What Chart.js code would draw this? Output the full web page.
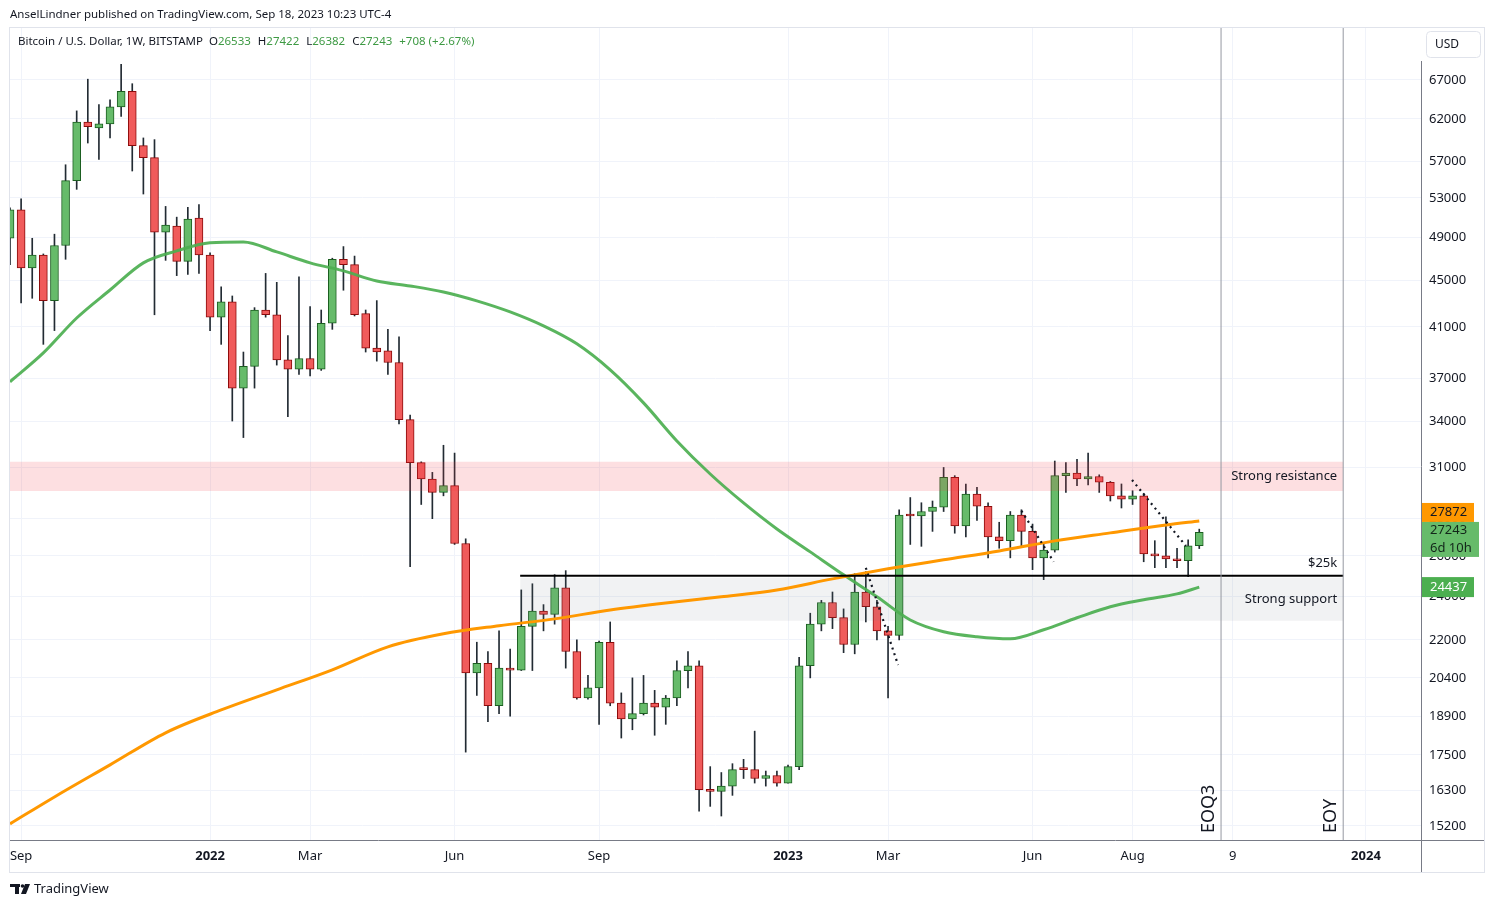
<!DOCTYPE html>
<html>
<head>
<meta charset="utf-8">
<title>Bitcoin / U.S. Dollar, 1W</title>
<script src="https://cdn.jsdelivr.net/npm/chart.js@4.4.0/dist/chart.umd.min.js"></script>
<style>
    html, body { margin: 0; padding: 0; background: #ffffff; }
    #chart { display: block; }
</style>
</head>
<body>
<canvas id="chart" width="1494" height="907"></canvas>
<script>
// week 0 = weekly bar starting Mon 2021-09-06, first bar drawn is week -1
const firstWeek = -1;

const opens = [48900, 51750, 46100, 47300, 43200, 48200, 54850, 61600, 60900, 61400,
    63500, 65500, 58800, 57400, 49500, 50100, 46700, 50900, 47300, 41800,
    43100, 36300, 37900, 42400, 42000, 38400, 37700, 38500, 37700, 41300,
    46900, 46400, 42100, 39300, 39100, 38200, 34100, 31300, 30300, 29500,
    29900, 26650, 20600, 21000, 19300, 20780, 20720, 22600, 23300, 23150,
    24400, 21500, 19600, 20000, 21900, 19400, 18800, 19000, 19400, 19250,
    19600, 20700, 20900, 16330, 16280, 16450, 17050, 17000, 16700, 16800,
    16550, 17100, 20900, 22700, 23700, 23000, 21800, 24200, 23500, 22400,
    22200, 28200, 28150, 28400, 28650, 30400, 27600, 29400, 28700, 27000,
    26800, 28200, 27300, 25900, 26300, 30500, 30650, 30300, 30450, 30100,
    29300, 29100, 29300, 26100, 26000, 25850, 25750, 26533];
const highs = [51950, 52900, 48900, 47400, 49300, 56600, 63000, 67100, 63800, 64400,
    69100, 66500, 59700, 59500, 52100, 51000, 52000, 52300, 47500, 44400,
    43600, 39000, 42600, 45600, 44800, 40300, 45300, 42700, 42400, 47000,
    48100, 47200, 42400, 43200, 40800, 40200, 34400, 31350, 30700, 32400,
    31900, 26900, 21900, 21500, 22400, 21600, 24300, 24600, 23600, 25050,
    25250, 22000, 20500, 21950, 22800, 19800, 20400, 20500, 19900, 19700,
    21100, 21500, 21100, 17100, 16900, 17200, 17350, 18350, 16950, 16950,
    17150, 21250, 23200, 23800, 24200, 23400, 25100, 25200, 23800, 22600,
    28500, 29200, 28900, 29000, 31000, 30500, 30000, 29800, 28900, 27800,
    28400, 28500, 27700, 26700, 31400, 31300, 31500, 31900, 30550, 30150,
    30000, 29600, 29450, 26800, 28100, 26400, 26850, 27422];
const lows = [46400, 43000, 43400, 39600, 40700, 46900, 53900, 59100, 57200, 59700,
    62300, 55900, 53400, 42000, 46800, 45400, 45500, 45600, 40700, 39600,
    34000, 32900, 36300, 41800, 38000, 34300, 37300, 37200, 37600, 40800,
    44100, 41900, 39000, 38300, 37300, 33800, 25450, 28800, 28000, 29300,
    26600, 17600, 19700, 18700, 19000, 18900, 20700, 20700, 22400, 22700,
    20800, 19550, 19550, 18600, 19300, 18100, 18400, 18950, 18200, 18600,
    19300, 20000, 15650, 15800, 15500, 16150, 16700, 16550, 16450, 16450,
    16550, 17000, 20400, 22400, 22500, 21450, 21400, 22800, 22000, 19600,
    22000, 26600, 26500, 27300, 28400, 27200, 27000, 27900, 25900, 26400,
    25900, 26500, 25300, 24800, 26200, 29500, 29900, 29950, 29500, 29000,
    28600, 28800, 25700, 25400, 25400, 25400, 24950, 26382];
const closes = [51750, 46100, 47300, 43200, 48200, 54850, 61600, 61050, 61400, 63500,
    65500, 58800, 57400, 49500, 50200, 46700, 50800, 47300, 41800, 43100,
    36300, 37900, 42400, 42000, 38400, 37700, 38500, 37700, 41300, 46900,
    46400, 42000, 39300, 39000, 38200, 34100, 31300, 30300, 29500, 29900,
    26650, 20600, 21000, 19300, 20800, 20720, 22600, 23300, 23150, 24400,
    21500, 19600, 20000, 21900, 19400, 18800, 19000, 19400, 19250, 19600,
    20700, 20900, 16330, 16280, 16450, 17000, 17000, 16700, 16800, 16550,
    17100, 20900, 22700, 23700, 23000, 21800, 24200, 23500, 22400, 22200,
    28200, 28150, 28400, 28650, 30400, 27600, 29400, 28700, 27000, 26800,
    28200, 27300, 25900, 26300, 30500, 30650, 30300, 30450, 30100, 29300,
    29100, 29300, 26100, 26000, 25850, 25750, 26533, 27243];

// moving averages at a few weeks
const greenMaWeeks = [-1, 2, 5, 8, 11, 14, 17, 20, 23, 26, 29, 32, 35, 38, 41, 44, 47, 50, 53,
    56, 59, 62, 65, 68, 71, 74, 77, 80, 83, 86, 89, 92, 95, 98, 101, 104, 106];
const greenMaValues = [36760, 38930, 41730, 44120, 46570, 47690, 48460, 48550, 47590, 46570,
    45830, 44920, 44480, 43950, 43180, 42240, 41080, 39640, 37640, 35250, 32680, 30600,
    28890, 27430, 26210, 25040, 23970, 22890, 22360, 22140, 22050, 22450, 22990, 23500,
    23830, 24110, 24437];
const orangeMaWeeks = [-1, 3, 8, 13, 18, 23, 28, 33, 38, 43, 48, 53, 58, 63, 68, 73, 78, 83,
    88, 93, 98, 103, 106];
const orangeMaValues = [15260, 16100, 17160, 18290, 19140, 19920, 20730, 21700, 22270, 22630,
    22940, 23350, 23680, 23970, 24300, 24840, 25340, 25800, 26260, 26790, 27220, 27650, 27872];

// drawings
const resistanceZone = [29590, 31350];
const supportZone = [22850, 24900];
const supportLevel = 25000;
const supportStartWeek = 44.9;
const eoq3Week = 107.96;
const eoyWeek = 118.95;
const dottedLines = [
    {weeks: [76.0, 78.9], values: [25390, 20930]},
    {weeks: [90.0, 92.9], values: [28440, 25700]},
    {weeks: [99.95, 104.8], values: [30240, 26520]}
];

const timeTickWeeks = [0, 17, 26, 39, 52, 69, 78, 91, 100, 109, 121];
const timeTickLabels = ['Sep', '2022', 'Mar', 'Jun', 'Sep', '2023', 'Mar', 'Jun', 'Aug', '9', '2024'];
const priceTicks = [67000, 62000, 57000, 53000, 49000, 45000, 41000, 37000, 34000, 31000,
    28000, 26000, 24000, 22000, 20400, 18900, 17500, 16300, 15200];

const xMin = -1;
const xMax = 125.95;
const yMin = 14778;
const yMax = 74290;

const FONT = '"Noto Sans", "DejaVu Sans", sans-serif';
const TEXT = '#131722';
Chart.defaults.font.family = FONT;

const weekOf = opens.map((o, i) => firstWeek + i);
const upBar = opens.map((o, i) => closes[i] >= o);

const wickData = weekOf.map((w, i) => ({x: w, y: [lows[i], highs[i]]}));
const bodyData = weekOf.map((w, i) => ({x: w, y: [opens[i], closes[i]]}));

const toPoints = (weeks, values) => weeks.map((w, i) => ({x: w, y: values[i]}));

const zoneSet = (range, startWeek, color) => ({
    type: 'line',
    data: [{x: startWeek, y: range[1]}, {x: eoyWeek, y: range[1]}],
    fill: {value: range[0]},
    backgroundColor: color,
    borderWidth: 0,
    pointRadius: 0,
    order: 10
});

const datasets = [
    {
        type: 'bar', data: wickData, grouped: false, barThickness: 1,
        backgroundColor: '#222b33', borderWidth: 0, order: 30
    },
    {
        type: 'bar', data: bodyData, grouped: false, barThickness: 8, minBarLength: 2,
        backgroundColor: upBar.map(u => u ? '#66bb6a' : '#f05b5b'),
        borderColor: upBar.map(u => u ? '#1b5e20' : '#8b0a0a'),
        borderWidth: 1, borderSkipped: false, order: 20
    },
    zoneSet(resistanceZone, xMin, 'rgba(242, 54, 69, 0.16)'),
    zoneSet(supportZone, supportStartWeek, 'rgba(120, 123, 134, 0.10)'),
    {
        type: 'line', data: toPoints(orangeMaWeeks, orangeMaValues),
        borderColor: '#ff9800', borderWidth: 3, pointRadius: 0,
        cubicInterpolationMode: 'monotone', order: 5
    },
    {
        type: 'line', data: toPoints(greenMaWeeks, greenMaValues),
        borderColor: 'rgba(76, 175, 80, 0.92)', borderWidth: 3, pointRadius: 0,
        cubicInterpolationMode: 'monotone', order: 5
    },
    {
        type: 'line', data: [{x: supportStartWeek, y: supportLevel}, {x: eoyWeek, y: supportLevel}],
        borderColor: '#000000', borderWidth: 2, pointRadius: 0, order: 4
    },
    {
        type: 'line', data: [{x: eoq3Week, y: yMin}, {x: eoq3Week, y: yMax}],
        borderColor: '#9598a1', borderWidth: 1, pointRadius: 0, order: 3
    },
    {
        type: 'line', data: [{x: eoyWeek, y: yMin}, {x: eoyWeek, y: yMax}],
        borderColor: '#9598a1', borderWidth: 1, pointRadius: 0, order: 3
    }
];

for (const d of dottedLines) {
    datasets.push({
        type: 'line', data: toPoints(d.weeks, d.values),
        borderColor: '#131722', borderWidth: 2.2, borderDash: [2, 4],
        pointRadius: 0, order: 2
    });
}

const priceBox = (ctx, top, width, height, bg, lines, color) => {
    ctx.fillStyle = bg;
    ctx.fillRect(1422, top, width, height);
    ctx.fillStyle = color;
    ctx.font = '13px ' + FONT;
    ctx.textAlign = 'left';
    ctx.textBaseline = 'middle';
    const step = height / lines.length;
    lines.forEach((t, i) => ctx.fillText(t, 1430, top + step * (i + 0.5)));
};

const overlay = {
    id: 'overlay',
    afterDraw(chart) {
        const {ctx, chartArea: area} = chart;
        const x = chart.scales.x, y = chart.scales.y;
        ctx.save();

        // pane frame and axis lines
        ctx.strokeStyle = '#e0e3eb';
        ctx.lineWidth = 1;
        ctx.strokeRect(9.5, 27.5, 1475, 845);
        ctx.strokeStyle = '#787b86';
        ctx.beginPath();
        ctx.moveTo(area.right + 0.5, 61);
        ctx.lineTo(area.right + 0.5, 872);
        ctx.moveTo(area.left, area.bottom + 0.5);
        ctx.lineTo(1484, area.bottom + 0.5);
        ctx.stroke();

        // header lines
        ctx.textAlign = 'left';
        ctx.textBaseline = 'middle';
        ctx.fillStyle = TEXT;
        ctx.font = '11.5px ' + FONT;
        ctx.fillText('AnselLindner published on TradingView.com, Sep 18, 2023 10:23 UTC-4', 10, 15);
        ctx.font = '11.5px ' + FONT;
        const symbol = 'Bitcoin / U.S. Dollar, 1W, BITSTAMP';
        ctx.fillText(symbol, 18, 42);
        let px = 18 + ctx.measureText(symbol).width + 6;
        const legend = [['O', '26533'], ['H', '27422'], ['L', '26382'], ['C', '27243'], ['', '+708 (+2.67%)']];
        for (const [k, v] of legend) {
            ctx.fillStyle = TEXT;
            ctx.fillText(k, px, 42);
            px += ctx.measureText(k).width;
            ctx.fillStyle = '#3e9a44';
            ctx.fillText(v, px, 42);
            px += ctx.measureText(v).width + 7;
        }

        // USD button
        ctx.strokeStyle = '#e0e3eb';
        ctx.beginPath();
        ctx.roundRect(1426.5, 31.5, 54, 26, 4);
        ctx.stroke();
        ctx.fillStyle = TEXT;
        ctx.font = '12px ' + FONT;
        ctx.textAlign = 'center';
        ctx.fillText('USD', 1447, 45);

        // zone labels
        const right = x.getPixelForValue(eoyWeek) - 6;
        ctx.font = '13px ' + FONT;
        ctx.textAlign = 'right';
        ctx.fillStyle = TEXT;
        ctx.fillText('Strong resistance', right,
            (y.getPixelForValue(resistanceZone[0]) + y.getPixelForValue(resistanceZone[1])) / 2);
        ctx.fillText('$25k', right, y.getPixelForValue(supportLevel) - 12);
        ctx.fillText('Strong support', right,
            (y.getPixelForValue(supportZone[0]) + y.getPixelForValue(supportZone[1])) / 2);

        // vertical line captions
        ctx.font = '18px ' + FONT;
        ctx.textAlign = 'left';
        ctx.textBaseline = 'bottom';
        for (const [w, t] of [[eoq3Week, 'EOQ3'], [eoyWeek, 'EOY']]) {
            ctx.save();
            ctx.translate(x.getPixelForValue(w) - 3, area.bottom - 7);
            ctx.rotate(-Math.PI / 2);
            ctx.fillText(t, 0, 0);
            ctx.restore();
        }

        // price labels on the axis
        const pOrange = y.getPixelForValue(orangeMaValues[orangeMaValues.length - 1]);
        const pLast = y.getPixelForValue(closes[closes.length - 1]);
        const pGreen = y.getPixelForValue(greenMaValues[greenMaValues.length - 1]);
        priceBox(ctx, pOrange - 18, 52, 19, '#ff9800', ['27872'], TEXT);
        priceBox(ctx, pLast - 10.5, 57, 35, '#66bb6a', ['27243', '6d 10h'], '#13261a');
        priceBox(ctx, pGreen - 10, 52, 20, '#4caf50', ['24437'], '#ffffff');

        // footer logo
        ctx.fillStyle = TEXT;
        ctx.fillRect(10, 884, 10, 3);
        ctx.fillRect(15, 884, 4, 10);
        ctx.beginPath();
        ctx.arc(22.5, 886, 1.8, 0, Math.PI * 2);
        ctx.fill();
        ctx.beginPath();
        ctx.moveTo(25, 884);
        ctx.lineTo(30, 884);
        ctx.lineTo(26, 894);
        ctx.lineTo(21, 894);
        ctx.closePath();
        ctx.fill();
        ctx.font = '13px ' + FONT;
        ctx.textAlign = 'left';
        ctx.textBaseline = 'middle';
        ctx.fillText('TradingView', 34, 889);

        ctx.restore();
    }
};

new Chart(document.getElementById('chart'), {
    type: 'bar',
    data: {datasets: datasets},
    options: {
        responsive: false,
        animation: false,
        devicePixelRatio: 1,
        layout: {padding: {left: 10, top: 28, right: 10, bottom: 35}},
        plugins: {legend: {display: false}, tooltip: {enabled: false}},
        scales: {
            x: {
                type: 'linear', min: xMin, max: xMax, offset: false,
                grid: {color: '#f0f3fa', drawTicks: false, offset: false},
                border: {display: false},
                afterBuildTicks: s => { s.ticks = timeTickWeeks.map(v => ({value: v})); },
                afterFit: s => { s.height = 32; },
                ticks: {
                    autoSkip: false, maxRotation: 0, padding: 8, color: TEXT,
                    font: c => ({size: 13, weight: /^\d{4}$/.test(timeTickLabels[c.index]) ? 'bold' : 'normal'}),
                    callback: (v, i) => timeTickLabels[i]
                }
            },
            y: {
                type: 'logarithmic', position: 'right', min: yMin, max: yMax,
                grid: {color: '#f0f3fa', drawTicks: false},
                border: {display: false},
                afterBuildTicks: s => { s.ticks = priceTicks.map(v => ({value: v})); },
                afterFit: s => { s.width = 63; },
                ticks: {autoSkip: false, padding: 8, color: TEXT, font: {size: 13}, callback: v => String(v)}
            }
        }
    },
    plugins: [overlay]
});
</script>
</body>
</html>
